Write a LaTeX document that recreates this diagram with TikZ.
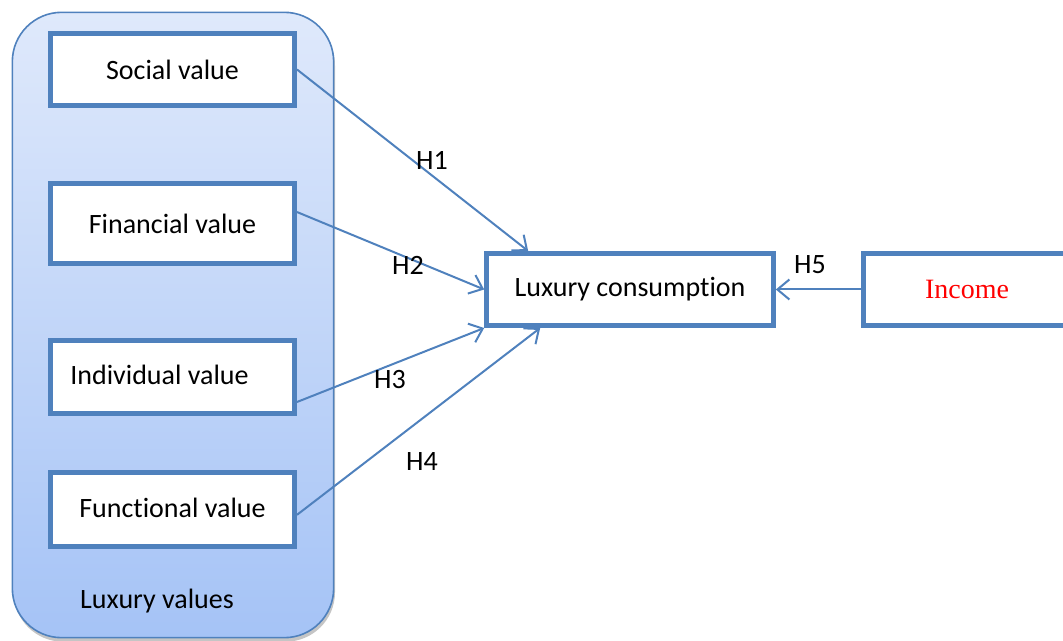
\documentclass[tikz,border=0pt]{standalone}
\usepackage{fontspec}
\setmainfont{Carlito}[Ligatures=NoCommon]
\newfontfamily\incomefont{Liberation Serif}
\usetikzlibrary{arrows.meta,shadows}
\definecolor{boxblue}{HTML}{4F81BD}
\definecolor{shadetop}{HTML}{DFE9FB}
\definecolor{shadebot}{HTML}{A5C3F6}
\begin{document}
\begin{tikzpicture}[y=-0.75pt,x=0.75pt]
            \tikzset{
                valbox/.style={rectangle,draw=boxblue,line width=3.75pt,fill=white,minimum width=183pt,minimum height=54pt,font=\fontsize{21}{24}\selectfont},
                hyp/.style={font=\fontsize{21}{24}\selectfont},
                link/.style={draw=boxblue,line width=1.5pt,-{Straight Barb[length=9pt,width=15pt]}}
            }
            \clip (0,0) rectangle (1063,641);

            \node[rectangle,rounded corners=37pt,draw=boxblue,line width=1.2pt,
                  top color=shadetop,bottom color=shadebot,
                  drop shadow={shadow xshift=1pt,shadow yshift=-3pt,fill=black!45},
                  minimum width=241pt,minimum height=469pt] (lv) at (173,325) {};
            \node[hyp] (lvt) at (157,601) {Luxury values};

            \node[valbox] (sv) at (172.5,69.5) {Social value};
            \node[valbox,minimum height=60pt] (fv) at (172.5,223.5) {Financial value};
            \node[valbox,minimum height=54.75pt] (iv) at (172.5,377) {\raisebox{3pt}{Individual value}\hspace*{19.5pt}};
            \node[valbox,minimum height=55.5pt] (fn) at (172.5,509.5) {\raisebox{3pt}{Functional value}};

            \node[valbox,minimum width=215pt] (lc) at (630,289.5) {Luxury consumption};
            \node[valbox,minimum width=215pt,font=\incomefont\fontsize{21}{24}\selectfont,text=red] (inc) at (1007,289.5) {\hspace*{-60pt}Income};

            \draw[link] (sv.east) -- ([xshift=33pt]lc.north west);
            \draw[link] ([yshift=8.6pt]fv.east) -- (lc.west);
            \draw[link] ([yshift=-18.75pt]iv.east) -- (lc.south west);
            \draw[link] ([yshift=-4pt]fn.east) -- ([xshift=42pt]lc.south west);
            \draw[link] (inc.west) -- (lc.east);

            \node[hyp] (h1) at (432,160) {H1};
            \node[hyp] (h2) at (408,265) {H2};
            \node[hyp] (h3) at (390,380) {H3};
            \node[hyp] (h4) at (422,462) {H4};
            \node[hyp] (h5) at (810,265) {H5};
        \end{tikzpicture}
\end{document}
